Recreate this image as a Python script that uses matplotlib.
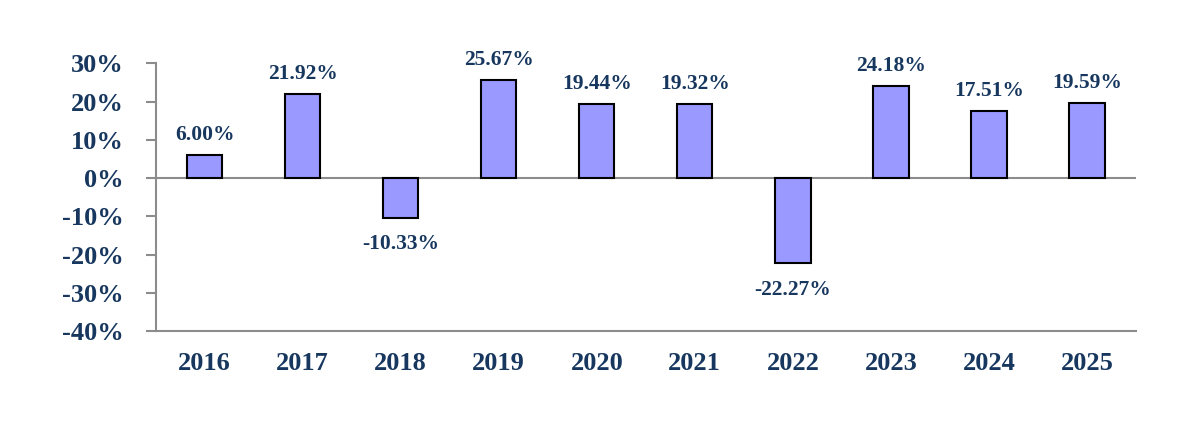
import matplotlib
matplotlib.use("Agg")
import matplotlib.pyplot as plt
from matplotlib.ticker import FuncFormatter

years = ["2016", "2017", "2018", "2019", "2020", "2021", "2022", "2023", "2024", "2025"]
returns = [6.00, 21.92, -10.33, 25.67, 19.44, 19.32, -22.27, 24.18, 17.51, 19.59]
yticks = [-40, -30, -20, -10, 0, 10, 20, 30]

navy = "#17375E"
grey = "#8C8C8C"

plt.rcParams['font.family'] = ['Liberation Serif', 'DejaVu Serif']
fig = plt.figure(figsize=(12, 4.42), dpi=100)
ax = fig.add_axes([0.1296, 0.2511, 0.9467 - 0.1296, 0.8568 - 0.2511])

x = list(range(len(years)))
ax.bar(x, returns, width=0.36, color="#9999FF", edgecolor="black", linewidth=1.5, zorder=3)
ax.axhline(0, color=grey, linewidth=1.5, zorder=2)

ax.set_xlim(-0.5, len(years) - 0.5)
ax.set_ylim(-40, 30)
ax.set_yticks(yticks)
ax.yaxis.set_major_formatter(FuncFormatter(lambda v, p: f"{int(v)}%"))
ax.set_xticks(x)
ax.set_xticklabels(years)

for s in ["top", "right"]:
    ax.spines[s].set_visible(False)
for s in ["left", "bottom"]:
    ax.spines[s].set_color(grey)
    ax.spines[s].set_linewidth(1.5)

ax.tick_params(axis='y', length=7, width=1.5, color=grey, pad=16, labelsize=19, labelcolor=navy)
ax.tick_params(axis='x', length=0, pad=15, labelsize=19, labelcolor=navy)
for lab in ax.get_xticklabels() + ax.get_yticklabels():
    lab.set_fontweight('bold')

for xi, v in zip(x, returns):
    if v >= 0:
        ax.annotate(f"{v:.2f}%", (xi, v), xytext=(0, 7), textcoords="offset points",
                    ha="center", va="bottom", fontsize=15.5, fontweight="bold", color=navy)
    else:
        ax.annotate(f"{v:.2f}%", (xi, v), xytext=(0, -12), textcoords="offset points",
                    ha="center", va="top", fontsize=15.5, fontweight="bold", color=navy)

fig.savefig("out.png", dpi=100)
